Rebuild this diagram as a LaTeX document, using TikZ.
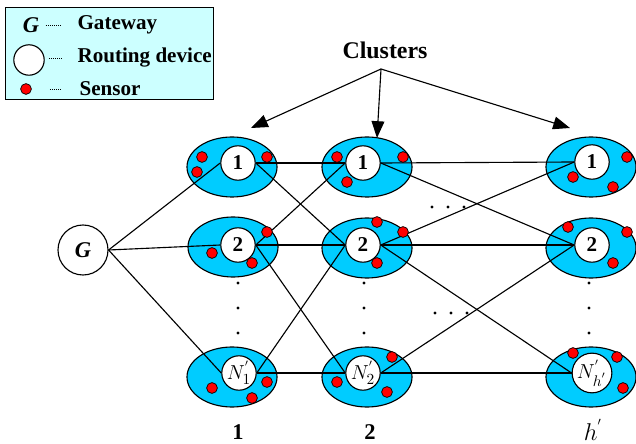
\documentclass[tikz,border=0pt]{standalone}
\usepackage{fontspec}
\setmainfont{Liberation Serif}
\usetikzlibrary{shapes.geometric,arrows.meta}
\definecolor{clusterblue}{RGB}{0,204,255}
\definecolor{legendbg}{RGB}{204,255,255}

\begin{document}
\begin{tikzpicture}
   [x=0.025cm,y=-0.025cm,line width=0.8pt,
    cluster/.style={ellipse,fill=clusterblue,draw=black,minimum width=2.25cm,minimum height=1.5cm,inner sep=0pt},
    router/.style={circle,fill=white,draw=black,minimum size=0.86cm,inner sep=0pt,font=\fontsize{15}{15}\selectfont\bfseries},
    sensor/.style={circle,fill=red,draw=black,line width=0.5pt,minimum size=0.27cm,inner sep=0pt},
    dot/.style={circle,fill=black,minimum size=0.08cm,inner sep=0pt},
    label/.style={inner sep=0pt,font=\fontsize{15}{15}\selectfont\bfseries}]
  \useasboundingbox (0,0) rectangle (636,444);

  % legend
  \draw[fill=legendbg,line width=0.6pt] (5,7) rectangle (213,99);
  \node[label,font=\fontsize{16}{16}\selectfont\bfseries\itshape] (lg) at (31,25) {G};
  \node[label,anchor=west] (lgt) at (77,25) {Gateway};
  \node[circle,draw=black,fill=white,minimum size=0.76cm,inner sep=0pt] (lr) at (29,60) {};
  \node[label,anchor=west] (lrt) at (77,58) {Routing device};
  \node[sensor] (ls) at (26,89) {};
  \node[label,anchor=west] (lst) at (79,89) {Sensor};
  \draw[densely dotted,line width=0.5pt,shorten <=0.15cm,shorten >=0.37cm] (lg.east) -- (lgt.west);
  \draw[densely dotted,line width=0.5pt,shorten <=0.1cm,shorten >=0.37cm] (lr.east |- lrt) -- (lrt.west);
  \draw[densely dotted,line width=0.5pt,shorten <=0.45cm,shorten >=0.42cm] (ls.east) -- (lst.west);

  % clusters
  \node[cluster] (e11) at (232,167) {};
  \node[cluster] (e12) at (233,247) {};
  \node[cluster] (e1n) at (232,377) {};
  \node[cluster] (e21) at (367,167) {};
  \node[cluster] (e22) at (367,248) {};
  \node[cluster] (e2n) at (367,377) {};
  \node[cluster] (e31) at (591,167) {};
  \node[cluster] (e32) at (591,248) {};
  \node[cluster] (e3n) at (591,377) {};

  % routing devices
  \node[circle,draw=black,fill=white,minimum size=1.25cm,inner sep=0pt,
        font=\fontsize{16}{16}\selectfont\bfseries\itshape] (g) at (83,250) {G};
  \node[router] (r11) at (238,163) {1};
  \node[router] (r12) at (238,245) {2};
  \node[router] (r1n) at (239,373) {$N^{'}_{1}$};
  \node[router] (r21) at (363,163) {1};
  \node[router] (r22) at (363,245) {2};
  \node[router] (r2n) at (363,373) {$N^{'}_{2}$};
  \node[router] (r31) at (592,162) {1};
  \node[router] (r32) at (592,245) {2};
  \node[router] (r3n) at (592,373) {$N^{'}_{h^{'}}$};

  \foreach \from in {r11, r12, r1n}
    \draw (g.east) -- (\from.west);
  \foreach \from/\to in {r11/r21, r11/r22, r12/r21, r12/r22, r12/r2n, r1n/r22, r1n/r2n,
                         r21/r31, r21/r32, r22/r31, r22/r32, r22/r3n, r2n/r32, r2n/r3n}
    \draw (\from.east) -- (\to.west);

  % sensors
  \foreach \x/\y [count=\i] in {202/157, 197/172, 267/157, 337/157, 403/157, 347/182,
                                267/232, 212/253, 252/263, 377/222, 403/232, 377/263,
                                212/388, 252/398, 267/382, 337/382, 392/357, 387/392,
                                627/157, 573/177, 613/187, 568/227, 627/232, 613/263,
                                573/353, 617/357, 623/388}
    \node[sensor] (s\i) at (\x,\y) {};

  % dots
  \foreach \x in {238, 364, 589}
    \foreach \y in {283, 308, 333}
      \node[dot] (v\x-\y) at (\x,\y) {};
  \foreach \x in {432, 448, 464}
    \node[dot] (h\x) at (\x,207) {};
  \foreach \x in {435, 451, 467}
    \node[dot] (k\x) at (\x,313) {};

  % cluster labels
  \node[label,font=\fontsize{17}{17}\selectfont\bfseries] (cl) at (385,50) {Clusters};
  \coordinate (src) at (381,69);
  \coordinate (t1) at (251,128);
  \coordinate (t2) at (377,138);
  \coordinate (t3) at (570,128);
  \foreach \to in {t1, t2, t3}
    \draw[-{Triangle[length=0.42cm,width=0.32cm]}] (src) -- (\to);

  \node[label,font=\fontsize{16}{16}\selectfont\bfseries] (b1) at (238,432) {1};
  \node[label,font=\fontsize{16}{16}\selectfont\bfseries] (b2) at (370,432) {2};
  \node[label,font=\fontsize{17}{17}\selectfont] (bh) at (593,430) {$h^{'}$};

\end{tikzpicture}
\end{document}
